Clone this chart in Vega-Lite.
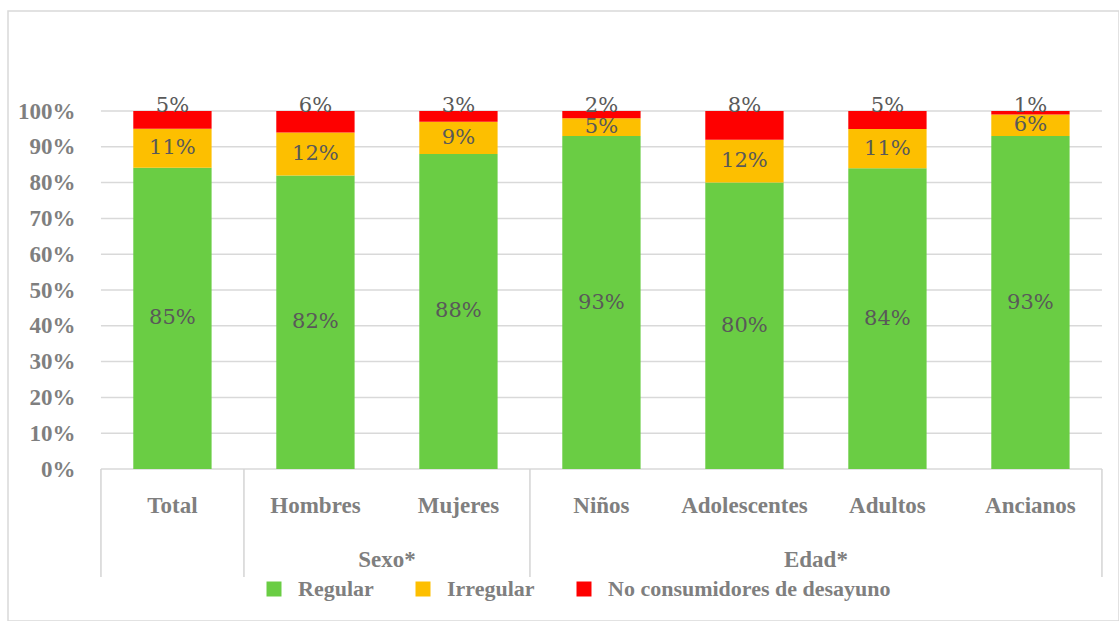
{
  "$schema": "https://vega.github.io/schema/vega-lite/v6.json",
  "width": 1111,
  "height": 610,
  "autosize": "none",
  "padding": {"left": 8, "top": 11, "right": 0, "bottom": 0},
  "background": "white",
  "config": {
    "font": "Liberation Serif",
    "view": {"stroke": "#d9d9d9", "strokeWidth": 1.5}
  },
  "datasets": {
    "barras": [
      {"cat": "Total", "serie": "Regular", "pct": 0.85, "orden": 1},
      {"cat": "Total", "serie": "Irregular", "pct": 0.11, "orden": 2},
      {"cat": "Total", "serie": "No consumidores de desayuno", "pct": 0.05, "orden": 3},
      {"cat": "Hombres", "serie": "Regular", "pct": 0.82, "orden": 1},
      {"cat": "Hombres", "serie": "Irregular", "pct": 0.12, "orden": 2},
      {"cat": "Hombres", "serie": "No consumidores de desayuno", "pct": 0.06, "orden": 3},
      {"cat": "Mujeres", "serie": "Regular", "pct": 0.88, "orden": 1},
      {"cat": "Mujeres", "serie": "Irregular", "pct": 0.09, "orden": 2},
      {"cat": "Mujeres", "serie": "No consumidores de desayuno", "pct": 0.03, "orden": 3},
      {"cat": "Niños", "serie": "Regular", "pct": 0.93, "orden": 1},
      {"cat": "Niños", "serie": "Irregular", "pct": 0.05, "orden": 2},
      {"cat": "Niños", "serie": "No consumidores de desayuno", "pct": 0.02, "orden": 3},
      {"cat": "Adolescentes", "serie": "Regular", "pct": 0.80, "orden": 1},
      {"cat": "Adolescentes", "serie": "Irregular", "pct": 0.12, "orden": 2},
      {"cat": "Adolescentes", "serie": "No consumidores de desayuno", "pct": 0.08, "orden": 3},
      {"cat": "Adultos", "serie": "Regular", "pct": 0.84, "orden": 1},
      {"cat": "Adultos", "serie": "Irregular", "pct": 0.11, "orden": 2},
      {"cat": "Adultos", "serie": "No consumidores de desayuno", "pct": 0.05, "orden": 3},
      {"cat": "Ancianos", "serie": "Regular", "pct": 0.93, "orden": 1},
      {"cat": "Ancianos", "serie": "Irregular", "pct": 0.06, "orden": 2},
      {"cat": "Ancianos", "serie": "No consumidores de desayuno", "pct": 0.01, "orden": 3}
    ],
    "rejilla": [
      {"v": 0}, {"v": 0.1}, {"v": 0.2}, {"v": 0.3}, {"v": 0.4}, {"v": 0.5},
      {"v": 0.6}, {"v": 0.7}, {"v": 0.8}, {"v": 0.9}, {"v": 1.0}
    ],
    "divisiones": [{"cat": "Total"}, {"cat": "Hombres"}, {"cat": "Niños"}],
    "cierre": [{"cat": "Ancianos"}],
    "grupos": [
      {"cat": "Hombres", "grupo": "Sexo*"},
      {"cat": "Adolescentes", "grupo": "Edad*"}
    ]
  },
  "layer": [
    {
      "data": {"name": "rejilla"},
      "mark": {"type": "rule", "color": "#d9d9d9", "strokeWidth": 1.5},
      "encoding": {
        "x": {"datum": "Total", "type": "nominal", "bandPosition": -0.413, "title": null,
              "scale": {"domain": ["Total", "Hombres", "Mujeres", "Niños", "Adolescentes", "Adultos", "Ancianos"], "paddingInner": 0.4524, "paddingOuter": 0.6108, "align": 0.7172, "round": false}},
        "x2": {"datum": "Ancianos", "bandPosition": 1.413},
        "y": {"field": "v", "type": "quantitative", "title": null,
              "scale": {"domain": [-0.42458, 1.27933], "nice": false, "zero": false}}
      }
    },
    {
      "data": {"name": "barras"},
      "mark": {"type": "bar"},
      "encoding": {
        "x": {"field": "cat", "type": "nominal", "title": null,
              "scale": {"domain": ["Total", "Hombres", "Mujeres", "Niños", "Adolescentes", "Adultos", "Ancianos"], "paddingInner": 0.4524, "paddingOuter": 0.6108, "align": 0.7172, "round": false},
              "axis": {"orient": "bottom", "offset": -152, "domain": false, "ticks": false, "grid": false, "labelPadding": 36, "labelAngle": 0,
                       "bandPosition": 0.5, "labelAlign": "center", "labelBaseline": "middle",
                       "labelFont": "Liberation Serif", "labelFontWeight": "bold", "labelFontSize": 23, "labelColor": "#7f7f7f"}},
        "y": {"field": "pct", "type": "quantitative", "stack": "normalize", "title": null,
              "scale": {"domain": [-0.42458, 1.27933], "nice": false, "zero": false},
              "axis": {"values": [0, 0.1, 0.2, 0.3, 0.4, 0.5, 0.6, 0.7, 0.8, 0.9, 1.0], "format": ".0%", "offset": -94,
                       "domain": false, "ticks": false, "grid": false, "labelPadding": 27,
                       "labelFont": "Liberation Serif", "labelFontWeight": "bold", "labelFontSize": 23, "labelColor": "#7f7f7f"}},
        "color": {"field": "serie", "type": "nominal",
                  "scale": {"domain": ["Regular", "Irregular", "No consumidores de desayuno"], "range": ["#6acd44", "#fdbf00", "#fe0000"]},
                  "legend": {"orient": "none", "legendX": 255, "legendY": 567, "direction": "horizontal", "title": null,
                             "symbolType": "square", "symbolSize": 225, "symbolStrokeWidth": 0, "symbolOpacity": 1,
                             "labelFont": "Liberation Serif", "labelFontWeight": "bold", "labelFontSize": 22, "labelColor": "#7f7f7f",
                             "labelOffset": 13, "columnPadding": 38, "labelLimit": 400, "padding": 0}},
        "order": {"field": "orden", "type": "quantitative"}
      }
    },
    {
      "data": {"name": "divisiones"},
      "mark": {"type": "rule", "color": "#d4d4d4", "strokeWidth": 1.5},
      "encoding": {
        "x": {"field": "cat", "type": "nominal", "bandPosition": -0.413, "title": null,
              "scale": {"domain": ["Total", "Hombres", "Mujeres", "Niños", "Adolescentes", "Adultos", "Ancianos"], "paddingInner": 0.4524, "paddingOuter": 0.6108, "align": 0.7172, "round": false}},
        "y": {"datum": 0, "type": "quantitative", "scale": {"domain": [-0.42458, 1.27933], "nice": false, "zero": false}},
        "y2": {"datum": -0.3017}
      }
    },
    {
      "data": {"name": "cierre"},
      "mark": {"type": "rule", "color": "#d4d4d4", "strokeWidth": 1.5},
      "encoding": {
        "x": {"field": "cat", "type": "nominal", "bandPosition": 1.413, "title": null,
              "scale": {"domain": ["Total", "Hombres", "Mujeres", "Niños", "Adolescentes", "Adultos", "Ancianos"], "paddingInner": 0.4524, "paddingOuter": 0.6108, "align": 0.7172, "round": false}},
        "y": {"datum": 0, "type": "quantitative", "scale": {"domain": [-0.42458, 1.27933], "nice": false, "zero": false}},
        "y2": {"datum": -0.3017}
      }
    },
    {
      "data": {"name": "grupos"},
      "mark": {"type": "text", "font": "Liberation Serif", "fontWeight": "bold", "fontSize": 23, "color": "#7f7f7f", "baseline": "middle"},
      "encoding": {
        "x": {"field": "cat", "type": "nominal", "bandPosition": 1.413, "title": null,
              "scale": {"domain": ["Total", "Hombres", "Mujeres", "Niños", "Adolescentes", "Adultos", "Ancianos"], "paddingInner": 0.4524, "paddingOuter": 0.6108, "align": 0.7172, "round": false}},
        "y": {"datum": -0.2528, "type": "quantitative", "scale": {"domain": [-0.42458, 1.27933], "nice": false, "zero": false}},
        "text": {"field": "grupo"}
      }
    },
    {
      "data": {"name": "barras"},
      "mark": {"type": "text", "font": "DejaVu Serif", "fontSize": 21, "color": "#595959", "baseline": "middle"},
      "encoding": {
        "x": {"field": "cat", "type": "nominal", "title": null,
              "scale": {"domain": ["Total", "Hombres", "Mujeres", "Niños", "Adolescentes", "Adultos", "Ancianos"], "paddingInner": 0.4524, "paddingOuter": 0.6108, "align": 0.7172, "round": false}},
        "y": {"field": "pct", "type": "quantitative", "stack": "normalize", "bandPosition": 0.5, "title": null,
              "scale": {"domain": [-0.42458, 1.27933], "nice": false, "zero": false}},
        "detail": {"field": "serie"},
        "order": {"field": "orden", "type": "quantitative"},
        "text": {"condition": {"test": "datum.serie !== 'No consumidores de desayuno'", "field": "pct", "type": "quantitative", "format": ".0%"}, "value": ""}
      }
    },
    {
      "data": {"name": "barras"},
      "mark": {"type": "text", "font": "DejaVu Serif", "fontSize": 21, "color": "#595959", "baseline": "alphabetic", "dy": 1},
      "encoding": {
        "x": {"field": "cat", "type": "nominal", "title": null,
              "scale": {"domain": ["Total", "Hombres", "Mujeres", "Niños", "Adolescentes", "Adultos", "Ancianos"], "paddingInner": 0.4524, "paddingOuter": 0.6108, "align": 0.7172, "round": false}},
        "y": {"field": "pct", "type": "quantitative", "stack": "normalize", "title": null,
              "scale": {"domain": [-0.42458, 1.27933], "nice": false, "zero": false}},
        "detail": {"field": "serie"},
        "order": {"field": "orden", "type": "quantitative"},
        "text": {"condition": {"test": "datum.serie === 'No consumidores de desayuno'", "field": "pct", "type": "quantitative", "format": ".0%"}, "value": ""}
      }
    }
  ]
}
